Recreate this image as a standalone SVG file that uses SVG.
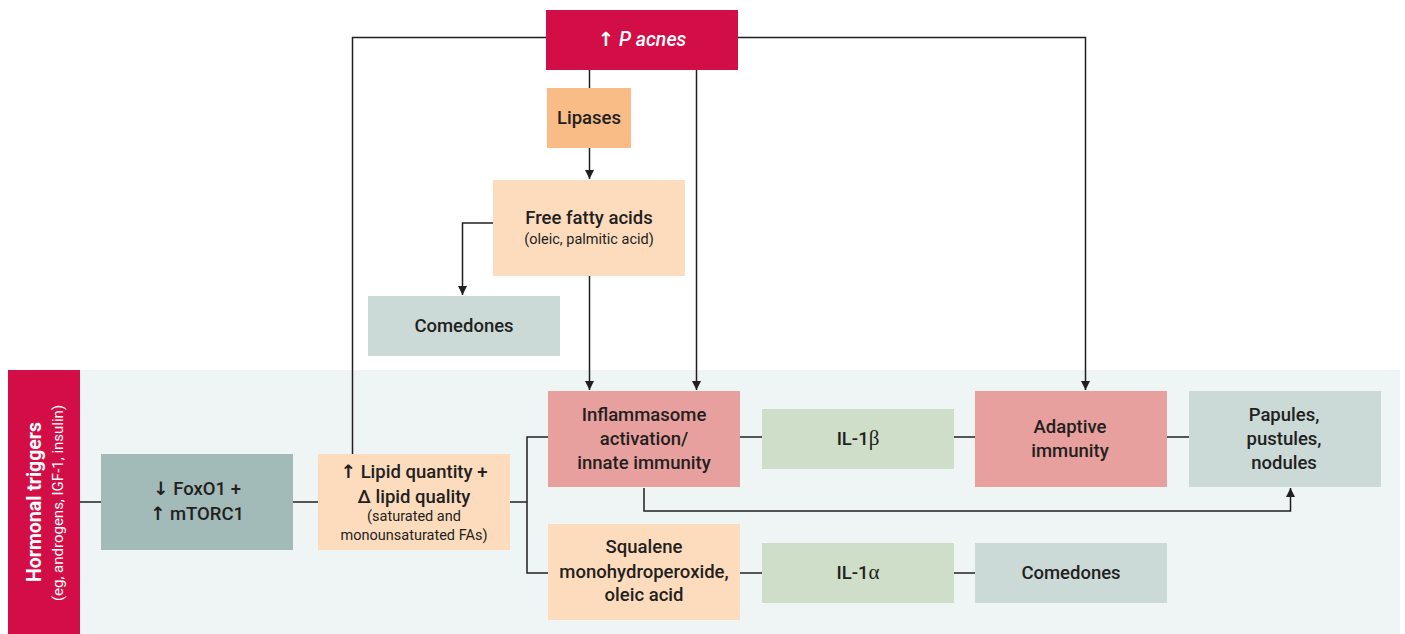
<svg xmlns="http://www.w3.org/2000/svg" width="1405" height="634" viewBox="0 0 1405 634">
<defs>
<marker id="ah" viewBox="0 0 10 10" refX="10" refY="5" markerWidth="9" markerHeight="9" markerUnits="userSpaceOnUse" orient="auto">
<path d="M0,0 L10,5 L0,10 Z" fill="#231F20"/>
</marker>
<style>
.t{font-family:Roboto,"Liberation Sans",sans-serif;font-weight:500;font-size:18.5px;fill:#231F20;text-anchor:middle}
.s{font-family:Roboto,"Liberation Sans",sans-serif;font-weight:400;font-size:14.5px;fill:#231F20;text-anchor:middle}
.ar{font-family:"DejaVu Sans",sans-serif;font-weight:700}
.gk{font-family:"Liberation Serif",serif;font-weight:400;font-size:21px}
.ln{fill:none;stroke:#231F20;stroke-width:1.5}
.red{fill:#D30D45}
.peach{fill:#FDDCBE}
.orange{fill:#F9BC86}
.pink{fill:#E8A09E}
.green{fill:#CFDEC8}
.grey{fill:#CBD9D7}
.teal{fill:#A2BAB8}
</style>
</defs>
<rect x="0" y="0" width="1405" height="634" fill="#FFFFFF"/>
<rect x="80" y="370" width="1320" height="264" fill="#EFF5F5"/>

<g id="connectors">
<path class="ln" d="M80,502 H101"/>
<path class="ln" d="M293,502 H318"/>
<path class="ln" d="M510,502 H527"/>
<path class="ln" d="M548,437 H527 V573 H548"/>
<path class="ln" d="M352.5,454 V37.5 H546"/>
<path class="ln" d="M738,37.5 H1085.5 V390" marker-end="url(#ah)"/>
<path class="ln" d="M589.5,70 V88"/>
<path class="ln" d="M589.5,148 V179" marker-end="url(#ah)"/>
<path class="ln" d="M696.5,70 V390" marker-end="url(#ah)"/>
<path class="ln" d="M589.5,276 V390" marker-end="url(#ah)"/>
<path class="ln" d="M493,223 H462.5 V295" marker-end="url(#ah)"/>
<path class="ln" d="M740,437 H762"/>
<path class="ln" d="M954,437 H975"/>
<path class="ln" d="M1167,437 H1189"/>
<path class="ln" d="M644,488 V511 H1290.5 V488" marker-end="url(#ah)"/>
<path class="ln" d="M740,573 H762"/>
<path class="ln" d="M954,573 H975"/>
</g>

<g id="hormonal">
<rect class="red" x="8" y="370" width="72" height="264"/>
<text transform="translate(41,502) rotate(-90)" style="font-family:Roboto,'Liberation Sans',sans-serif;font-weight:700;font-size:19.5px;fill:#FFFFFF;text-anchor:middle">Hormonal triggers</text>
<text transform="translate(63,503) rotate(-90)" style="font-family:Roboto,'Liberation Sans',sans-serif;font-weight:400;font-size:15px;fill:#FFFFFF;text-anchor:middle">(eg, androgens, IGF-1, insulin)</text>
</g>

<g id="pacnes">
<rect class="red" x="546" y="10" width="192" height="60"/>
<text class="t" x="642" y="46" style="fill:#FFFFFF;font-size:19.5px"><tspan class="ar">↑</tspan> <tspan font-style="italic">P acnes</tspan></text>
</g>

<g id="lipases">
<rect class="orange" x="547" y="88" width="84" height="60"/>
<text class="t" x="589" y="124">Lipases</text>
</g>

<g id="ffa">
<rect class="peach" x="493" y="180" width="192" height="96"/>
<text class="t" x="589" y="224">Free fatty acids</text>
<text class="s" x="589" y="244">(oleic, palmitic acid)</text>
</g>

<g id="comedones-top">
<rect class="grey" x="368" y="296" width="192" height="60"/>
<text class="t" x="464" y="332">Comedones</text>
</g>

<g id="foxo1">
<rect class="teal" x="101" y="454" width="192" height="96"/>
<text class="t" x="197" y="495"><tspan class="ar">↓</tspan> FoxO1 +</text>
<text class="t" x="197" y="520"><tspan class="ar">↑</tspan> mTORC1</text>
</g>

<g id="lipid">
<rect class="peach" x="318" y="454" width="192" height="96"/>
<text class="t" x="414" y="478"><tspan class="ar">↑</tspan> Lipid quantity +</text>
<text class="t" x="414" y="503">Δ lipid quality</text>
<text class="s" x="414" y="521">(saturated and</text>
<text class="s" x="414" y="540">monounsaturated FAs)</text>
</g>

<g id="inflammasome">
<rect class="pink" x="548" y="391" width="192" height="96"/>
<text class="t" x="644" y="421">Inflammasome</text>
<text class="t" x="644" y="445">activation/</text>
<text class="t" x="644" y="469">innate immunity</text>
</g>

<g id="il1b">
<rect class="green" x="762" y="409" width="192" height="60"/>
<text class="t" x="858" y="445">IL-1<tspan class="gk">β</tspan></text>
</g>

<g id="adaptive">
<rect class="pink" x="975" y="391" width="192" height="96"/>
<text class="t" x="1070" y="433">Adaptive</text>
<text class="t" x="1070" y="457">immunity</text>
</g>

<g id="papules">
<rect class="grey" x="1189" y="391" width="192" height="96"/>
<text class="t" x="1284" y="421">Papules,</text>
<text class="t" x="1284" y="445">pustules,</text>
<text class="t" x="1284" y="469">nodules</text>
</g>

<g id="squalene">
<rect class="peach" x="548" y="524" width="192" height="96"/>
<text class="t" x="644" y="553">Squalene</text>
<text class="t" x="644" y="578">monohydroperoxide,</text>
<text class="t" x="644" y="601">oleic acid</text>
</g>

<g id="il1a">
<rect class="green" x="762" y="543" width="192" height="60"/>
<text class="t" x="858" y="579">IL-1<tspan class="gk">α</tspan></text>
</g>

<g id="comedones-bottom">
<rect class="grey" x="975" y="543" width="192" height="60"/>
<text class="t" x="1071" y="579">Comedones</text>
</g>
</svg>
